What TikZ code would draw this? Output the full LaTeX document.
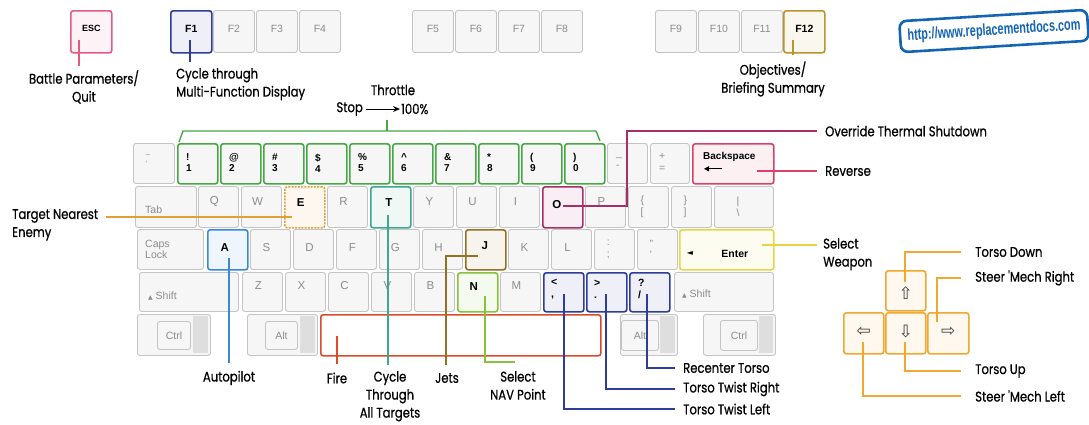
\documentclass[tikz,border=0pt]{standalone}
\usepackage{fontspec}
\setmainfont{Liberation Sans}
\newfontfamily\labfont[FakeStretch=0.83,FakeBold=0.7]{Poppins}
\newfontfamily\symfont{DejaVu Sans}
\usetikzlibrary{arrows.meta}
\definecolor{keyedge}{HTML}{C4C4C4}
\definecolor{keyfill}{HTML}{F6F6F6}
\definecolor{keygray}{HTML}{8C8C8C}
\definecolor{cpink}{HTML}{E25A82}
\definecolor{cnavy}{HTML}{2E3C9A}
\definecolor{cgold}{HTML}{B8962A}
\definecolor{cgreen}{HTML}{45A845}
\definecolor{cmag}{HTML}{A82E66}
\definecolor{ccrim}{HTML}{DA4068}
\definecolor{corange}{HTML}{E2A032}
\definecolor{cteal}{HTML}{3EA88E}
\definecolor{cblue}{HTML}{3A88D8}
\definecolor{colive}{HTML}{927024}
\definecolor{clime}{HTML}{86C23A}
\definecolor{cyellow}{HTML}{E6D645}
\definecolor{cred}{HTML}{DC4A2C}
\definecolor{carrow}{HTML}{F0A830}
\definecolor{curl}{HTML}{1464B4}
\tikzset{
  keybox/.style={draw=keyedge, fill=keyfill, line width=0.9pt, rounded corners=2.5pt, inner sep=0pt, anchor=north west},
  hl/.style={draw=#1, fill=#1!8, line width=1.6pt},
  keytxt/.style={font=\fontsize{10.5}{11.5}\selectfont, text=keygray, inner sep=0pt},
  keybold/.style={font=\fontsize{10.5}{12}\selectfont\bfseries, text=black, inner sep=0pt},
  lab/.style={font=\labfont\fontsize{14}{18}\selectfont, inner sep=0pt, text=black},
  conn/.style={line width=1.2pt},
  band/.style={fill=black!13, draw=none, inner sep=0pt, anchor=north west},
  arrglyph/.style={inner sep=0pt, text=black!75, font=\symfont\fontsize{17}{18}\selectfont},
}
\begin{document}
\begin{tikzpicture}[x=1pt,y=-1pt]
\useasboundingbox[fill=white] (0,0) rectangle (1089,424);

% ---------- function row ----------
\node[keybox,hl=cpink,minimum width=41pt,minimum height=42pt] (kESC) at (70,10) {};
\node[keybold,font=\fontsize{9}{10}\selectfont\bfseries] (tESC) at ([yshift=3pt]kESC.center) {ESC};
\node[keybox,hl=cnavy,minimum width=41pt,minimum height=42pt] (kF1) at (170,10) {};
\node[keybold] (tF1) at ([yshift=3pt]kF1.center) {F1};
\foreach \n/\x in {F2/213,F3/256,F4/299,F5/412,F6/455,F7/498,F8/541,F9/655,F10/698,F11/741}{
  \node[keybox,minimum width=41pt,minimum height=42pt] (k\n) at (\x,10) {};
  \node[keytxt] (t\n) at ([yshift=3pt]k\n.center) {\n};
}
\node[keybox,hl=cgold,minimum width=41pt,minimum height=42pt] (kF12) at (783,10) {};
\node[keybold] (tF12) at ([yshift=3pt]kF12.center) {F12};

% ---------- number row ----------
\node[keybox,minimum width=41pt,minimum height=40pt] (kTilde) at (133,143) {};
\node[keytxt,align=left,font=\fontsize{8}{9}\selectfont] (tTilde) at ([xshift=-6pt,yshift=3pt]kTilde.center) {\textasciitilde\\`};
\foreach \n/\x/\a/\b in {1/177/!/1,2/220/@/2,3/263/\#/3,4/306/\$/4,5/349/\%/5,6/392/\textasciicircum/6,7/435/\&/7,8/478/*/8,9/521/(/9,0/564/)/0}{
  \node[keybox,hl=cgreen,fill=keyfill,minimum width=40pt,minimum height=40pt] (k\n) at (\x,143) {};
  \node[keybold,align=left,anchor=west,font=\fontsize{10}{11}\selectfont\bfseries] (t\n) at ([xshift=9pt,yshift=1pt]k\n.west) {\a\\\b};
}
\node[keybox,minimum width=40pt,minimum height=40pt] (kMinus) at (607,143) {};
\node[keytxt,align=left,anchor=west] (tMinus) at ([xshift=9pt,yshift=1pt]kMinus.west) {\_\\-};
\node[keybox,minimum width=39pt,minimum height=40pt] (kEq) at (650,143) {};
\node[keytxt,align=left,anchor=west] (tEq) at ([xshift=9pt,yshift=1pt]kEq.west) {+\\=};
\node[keybox,hl=ccrim,minimum width=81pt,minimum height=40pt] (kBack) at (692,143) {};
\node[keybold,anchor=west,font=\fontsize{10}{11}\selectfont\bfseries] (tBack) at ([xshift=11pt,yshift=7pt]kBack.west) {Backspace};
\draw[line width=1pt,-{Triangle[length=5pt,width=5pt]}] ([xshift=30pt,yshift=-5pt]kBack.west) -- ([xshift=12pt,yshift=-5pt]kBack.west);

% ---------- QWERTY row ----------
\node[keybox,minimum width=61pt,minimum height=41pt] (kTab) at (135,186) {};
\node[keytxt,anchor=west] (tTab) at ([xshift=10pt,yshift=-3pt]kTab.west) {Tab};
\foreach \n/\x in {Q/198,W/241,R/327,Y/413,U/456,I/499,P/585}{
  \node[keybox,minimum width=40pt,minimum height=41pt] (k\n) at (\x,186) {};
  \node[keytxt,font=\fontsize{11.5}{12}\selectfont] (t\n) at ([xshift=-4pt,yshift=5pt]k\n.center) {\n};
}
\node[keybox,hl=corange,dash pattern=on 2pt off 1.2pt,minimum width=40pt,minimum height=41pt] (kE) at (284,186) {};
\node[keybold,font=\fontsize{11.5}{12}\selectfont\bfseries] (tE) at ([xshift=-4pt,yshift=5pt]kE.center) {E};
\node[keybox,hl=cteal,minimum width=40pt,minimum height=41pt] (kT) at (370,186) {};
\node[keybold,font=\fontsize{11.5}{12}\selectfont\bfseries] (tT) at ([xshift=-2pt,yshift=5pt]kT.center) {T};
\node[keybox,hl=cmag,minimum width=40pt,minimum height=41pt] (kO) at (542,186) {};
\node[keybold,font=\fontsize{11.5}{12}\selectfont\bfseries] (tO) at ([xshift=-6pt,yshift=3pt]kO.center) {O};
\node[keybox,minimum width=40pt,minimum height=41pt] (kLBr) at (628,186) {};
\node[keytxt,align=left] (tLBr) at ([xshift=-6pt,yshift=0pt]kLBr.center) {\{\\{[}};
\node[keybox,minimum width=40pt,minimum height=41pt] (kRBr) at (671,186) {};
\node[keytxt,align=left] (tRBr) at ([xshift=-6pt,yshift=0pt]kRBr.center) {\}\\{]}};
\node[keybox,minimum width=59pt,minimum height=41pt] (kBsl) at (714,186) {};
\node[keytxt,align=left] (tBsl) at ([xshift=-6pt,yshift=0pt]kBsl.center) {|\\\textbackslash};

% ---------- ASDF row ----------
\node[keybox,minimum width=66pt,minimum height=40pt] (kCaps) at (137,229) {};
\node[keytxt,align=left,anchor=west] (tCaps) at ([xshift=8pt]kCaps.west) {Caps\\Lock};
\node[keybox,hl=cblue,minimum width=40pt,minimum height=40pt] (kA) at (207,229) {};
\node[keybold,font=\fontsize{11.5}{12}\selectfont\bfseries] (tA) at ([xshift=-3pt,yshift=2pt]kA.center) {A};
\foreach \n/\x in {S/250,D/293,F/336,G/379,H/422,K/508,L/551}{
  \node[keybox,minimum width=40pt,minimum height=40pt] (k\n) at (\x,229) {};
  \node[keytxt,font=\fontsize{11.5}{12}\selectfont] (t\n) at ([xshift=-4pt,yshift=2pt]k\n.center) {\n};
}
\node[keybox,hl=colive,minimum width=40pt,minimum height=40pt] (kJ) at (465,229) {};
\node[keybold,font=\fontsize{11.5}{12}\selectfont\bfseries] (tJ) at ([xshift=-1pt,yshift=4pt]kJ.center) {J};
\node[keybox,minimum width=40pt,minimum height=40pt] (kSemi) at (594,229) {};
\node[keytxt,align=left] (tSemi) at ([xshift=-6pt]kSemi.center) {:\\;};
\node[keybox,minimum width=40pt,minimum height=40pt] (kQuote) at (637,229) {};
\node[keytxt,align=left] (tQuote) at ([xshift=-6pt]kQuote.center) {"\\'};
\node[keybox,hl=cyellow,minimum width=94pt,minimum height=40pt] (kEnter) at (679,229) {};
\node[keybold,font=\symfont\fontsize{8}{9}\selectfont] (tEnterA) at ([xshift=11pt,yshift=-4pt]kEnter.west) {◄};
\node[keybold] (tEnter) at ([xshift=8pt,yshift=-4pt]kEnter.center) {Enter};

% ---------- ZXCV row ----------
\node[keybox,minimum width=99pt,minimum height=39pt] (kLSh) at (139,272) {};
\node[keytxt,anchor=west] (tLSh) at ([xshift=9pt,yshift=-4pt]kLSh.west) {{\symfont\fontsize{6}{7}\selectfont▲} Shift};
\foreach \n/\x in {Z/242,X/285,C/328,V/371,B/414,M/500}{
  \node[keybox,minimum width=40pt,minimum height=39pt] (k\n) at (\x,272) {};
  \node[keytxt,font=\fontsize{11.5}{12}\selectfont] (t\n) at ([xshift=-4pt,yshift=6pt]k\n.center) {\n};
}
\node[keybox,hl=clime,minimum width=40pt,minimum height=39pt] (kN) at (457,272) {};
\node[keybold,font=\fontsize{11.5}{12}\selectfont\bfseries] (tN) at ([xshift=-4pt,yshift=6pt]kN.center) {N};
\node[keybox,hl=cnavy,minimum width=40pt,minimum height=39pt] (kComma) at (543,272) {};
\node[keybox,hl=cnavy,minimum width=40pt,minimum height=39pt] (kDot) at (586,272) {};
\node[keybox,hl=cnavy,minimum width=40pt,minimum height=39pt] (kSlash) at (629,272) {};
\node[keybold,align=left,anchor=west] (tComma) at ([xshift=8pt,yshift=3pt]kComma.west) {<\\,};
\node[keybold,align=left,anchor=west] (tDot) at ([xshift=8pt,yshift=3pt]kDot.west) {>\\.};
\node[keybold,align=left,anchor=west] (tSlash) at ([xshift=9pt,yshift=3pt]kSlash.west) {?\\/};
\node[keybox,minimum width=99pt,minimum height=39pt] (kRSh) at (674,272) {};
\node[keytxt,anchor=west] (tRSh) at ([xshift=8pt,yshift=-2pt]kRSh.west) {{\symfont\fontsize{6}{7}\selectfont▲} Shift};

% ---------- bottom row ----------
\node[keybox,minimum width=73pt,minimum height=41pt] (kLCtlO) at (137,314) {};
\node[band,minimum width=15pt,minimum height=37pt] (kLCtlB) at (193,316) {};
\node[keybox,minimum width=33pt,minimum height=28pt] (kLCtl) at (157,321) {};
\node[keytxt] (tLCtl) at (kLCtl.center) {Ctrl};
\node[keybox,minimum width=70pt,minimum height=41pt] (kLAltO) at (247,314) {};
\node[band,minimum width=15pt,minimum height=37pt] (kLAltB) at (300,316) {};
\node[keybox,minimum width=32pt,minimum height=28pt] (kLAlt) at (265,321) {};
\node[keytxt] (tLAlt) at (kLAlt.center) {Alt};
\node[keybox,hl=cred,fill=white,minimum width=280pt,minimum height=41pt] (kSpace) at (320,314) {};
\node[keybox,minimum width=57pt,minimum height=41pt] (kRAltO) at (620,314) {};
\node[band,minimum width=15pt,minimum height=37pt] (kRAltB) at (660,316) {};
\node[keybox,minimum width=37pt,minimum height=30pt] (kRAlt) at (621,320) {};
\node[keytxt] (tRAlt) at (kRAlt.center) {Alt};
\node[keybox,minimum width=72pt,minimum height=41pt] (kRCtlO) at (703,314) {};
\node[band,minimum width=14pt,minimum height=37pt] (kRCtlB) at (759,316) {};
\node[keybox,minimum width=37pt,minimum height=30pt] (kRCtl) at (720,320) {};
\node[keytxt] (tRCtl) at (kRCtl.center) {Ctrl};

% ---------- arrow keys ----------
\node[keybox,hl=carrow,minimum width=40pt,minimum height=40pt] (kUp) at (885,270) {};
\node[keybox,hl=carrow,minimum width=40pt,minimum height=41pt] (kLeft) at (843,312) {};
\node[keybox,hl=carrow,minimum width=40pt,minimum height=41pt] (kDown) at (885,312) {};
\node[keybox,hl=carrow,minimum width=41pt,minimum height=41pt] (kRight) at (927,312) {};
\node[arrglyph] (tUp) at ([yshift=-2pt]kUp.center) {⇧};
\node[arrglyph] (tLeft) at ([yshift=2pt]kLeft.center) {⇦};
\node[arrglyph] (tDown) at ([yshift=2pt]kDown.center) {⇩};
\node[arrglyph] (tRight) at ([yshift=2pt]kRight.center) {⇨};

% ---------- URL box ----------
\node[draw=curl,line width=2.6pt,rounded corners=7pt,fill=white,rotate=3.5,minimum width=188pt,minimum height=31pt,inner sep=0pt,
      font=\fontsize{16}{17}\selectfont\bfseries,text=curl] (url) at (994,31) {\scalebox{0.68}[1]{http://www.replacementdocs.com}};

% ---------- labels ----------
\node[lab,align=center] (lEsc) at (84,87) {Battle Parameters/\\Quit};
\node[lab,align=left,anchor=north west] (lF1) at (176,68) {Cycle through\\Multi-Function Display};
\node[lab,align=center] (lF12) at (773,79) {Objectives/\\Briefing Summary};
\node[lab] (lThr) at (393,90) {Throttle};
\node[lab,anchor=east] (lStop) at (363,109) {Stop};
\node[lab,anchor=west] (l100) at (401,109) {100\%};
\node[lab,anchor=west] (lOver) at (825,131) {Override Thermal Shutdown};
\node[lab,anchor=west] (lRev) at (825,171) {Reverse};
\node[lab,align=left,anchor=north west] (lSel) at (823,238) {Select\\Weapon};
\node[lab,align=left,anchor=north west] (lTarget) at (12,209) {Target Nearest\\Enemy};
\node[lab] (lAuto) at (229,378) {Autopilot};
\node[lab] (lFire) at (337,378) {Fire};
\node[lab,align=center,anchor=north] (lCyc) at (390,371) {Cycle\\Through\\All Targets};
\node[lab] (lJets) at (447,378) {Jets};
\node[lab,align=center,anchor=north] (lNav) at (518,371) {Select\\NAV Point};
\node[lab,anchor=west] (lRec) at (683,368) {Recenter Torso};
\node[lab,anchor=west] (lTR) at (683,389) {Torso Twist Right};
\node[lab,anchor=west] (lTL) at (683,409) {Torso Twist Left};
\node[lab,anchor=west] (lTD) at (975,252) {Torso Down};
\node[lab,anchor=west] (lSR) at (975,278) {Steer 'Mech Right};
\node[lab,anchor=west] (lTU) at (975,371) {Torso Up};
\node[lab,anchor=west] (lSL) at (975,396) {Steer 'Mech Left};

% ---------- connectors ----------
\coordinate (pEsc) at (79,40);
\coordinate (pF1) at (190,40);
\coordinate (pF12) at (793,40);
\draw[conn,cpink] (pEsc) -- ([yshift=4pt]pEsc |- lEsc.north);
\draw[conn,cnavy] (pF1) -- ([yshift=6pt]pF1 |- lF1.north);
\draw[conn,cgold] (pF12) -- ([yshift=6pt]pF12 |- lF12.north);
% throttle bracket
\coordinate (br1) at (179,142);
\coordinate (br2) at (183,131);
\coordinate (br3) at (596,131);
\coordinate (br4) at (600,141);
\coordinate (brM) at (387,131);
\draw[conn,cgreen,line width=1.4pt] (br1) -- (br2) -- (br3) -- (br4);
\draw[conn,cgreen] (brM) -- ([yshift=-6pt]brM |- l100.south);
\draw[line width=1pt,-{Stealth[length=7pt,width=6pt]}] ([xshift=3pt]lStop.east) -- ([xshift=-1pt]l100.west);
% override thermal shutdown
\coordinate (pO) at (563,206);
\draw[conn,cmag] (pO) -- (627,206) -- (627,131) -- ([xshift=-8pt]lOver.west);
\coordinate (pBack) at (757,171);
\draw[conn,ccrim] (pBack) -- ([xshift=-8pt]lRev.west);
\coordinate (pEnter) at (762,245);
\draw[conn,cyellow,line width=1.4pt] (pEnter) -- (817,245);
\coordinate (pE) at (292,217);
\draw[conn,corange] (pE) -- ([xshift=8pt]lTarget.east |- pE);
\coordinate (pA) at (229,258);
\draw[conn,cblue] (pA) -- ([yshift=8pt]lAuto.north);
\coordinate (pT) at (388,215);
\draw[conn,cteal] (pT) -- ([yshift=6pt]pT |- lCyc.north);
\coordinate (pJ) at (478,256);
\draw[conn,colive] (pJ) -- (446,256) -- ([yshift=8pt]lJets.north -| 446,0);
\coordinate (pN) at (485,296);
\draw[conn,clime] (pN) -- (485,362) -- (515,362);
\coordinate (pSp) at (337,336);
\draw[conn,cred] (pSp) -- ([yshift=8pt]lFire.north);
\coordinate (pSl) at (647,294);
\coordinate (pDt) at (606,294);
\coordinate (pCm) at (564,294);
\draw[conn,cnavy] (pSl) -- (pSl |- lRec.west) -- ([xshift=-8pt]lRec.west);
\draw[conn,cnavy] (pDt) -- (pDt |- lTR.west) -- ([xshift=-8pt]lTR.west);
\draw[conn,cnavy] (pCm) -- (pCm |- lTL.west) -- ([xshift=-8pt]lTL.west);
% arrow keys
\coordinate (pUp) at (905,282);
\coordinate (pRt) at (937,322);
\coordinate (pDn) at (905,342);
\coordinate (pLt) at (863,342);
\draw[conn,carrow] (pUp) -- (pUp |- lTD.west) -- ([xshift=-14pt]lTD.west);
\draw[conn,carrow] (pRt) -- (pRt |- lSR.west) -- ([xshift=-14pt]lSR.west);
\draw[conn,carrow] (pDn) -- (pDn |- lTU.west) -- ([xshift=-14pt]lTU.west);
\draw[conn,carrow] (pLt) -- (pLt |- lSL.west) -- ([xshift=-14pt]lSL.west);
\end{tikzpicture}
\end{document}
